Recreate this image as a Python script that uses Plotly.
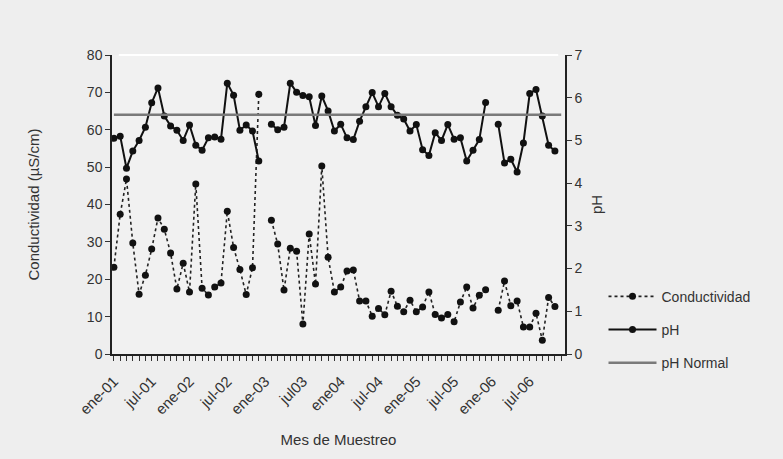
import plotly.graph_objects as go

# ---- data ----
MES_ABR = ["ene", "feb", "mar", "abr", "may", "jun", "jul", "ago", "sep", "oct", "nov", "dic"]
ANIOS = ["01", "02", "03", "04", "05", "06"]
MESES = [f"{m}-{a}" for a in ANIOS for m in MES_ABR]

TICK_LABELS = ["ene-01", "jul-01", "ene-02", "jul-02", "ene-03", "jul03",
               "ene04", "jul-04", "ene-05", "jul-05", "ene-06", "jul-06"]

CONDUCTIVIDAD = [23.2, 37.4, 46.8, 29.7, 16.0, 21.1, 28.1, 36.4, 33.4, 27.0, 17.4, 24.3,
                 16.6, 45.5, 17.6, 15.8, 17.9, 19.0, 38.2, 28.5, 22.6, 15.9, 23.1, 69.5,
                 None, 35.8, 29.4, 17.1, 28.3, 27.5, 8.0, 32.1, 18.7, 50.3, 25.9, 16.6,
                 17.9, 22.2, 22.5, 14.2, 14.2, 10.1, 12.2, 10.5, 16.8, 12.8, 11.3, 14.4,
                 11.3, 12.6, 16.6, 10.6, 9.6, 10.6, 8.6, 13.9, 17.9, 12.3, 15.7, 17.2,
                 None, 11.7, 19.5, 12.9, 14.2, 7.2, 7.2, 10.9, 3.7, 15.1, 12.7, None]

PH = [5.05, 5.10, 4.35, 4.75, 5.00, 5.31, 5.88, 6.23, 5.57, 5.34, 5.24, 5.00,
      5.36, 4.89, 4.77, 5.06, 5.08, 5.03, 6.34, 6.06, 5.24, 5.36, 5.22, 4.52,
      None, 5.38, 5.25, 5.31, 6.34, 6.13, 6.05, 6.02, 5.35, 6.04, 5.69, 5.22,
      5.38, 5.06, 5.02, 5.45, 5.79, 6.12, 5.79, 6.10, 5.79, 5.59, 5.50, 5.22,
      5.37, 4.78, 4.65, 5.18, 5.00, 5.37, 5.03, 5.06, 4.52, 4.77, 5.02, 5.89,
      None, 5.38, 4.47, 4.56, 4.26, 4.94, 6.10, 6.19, 5.57, 4.89, 4.75, None]

PH_NORMAL = 5.6

# ---- figure ----
FONT = "Liberation Sans, Arial, sans-serif"
TXT = "#333333"

fig = go.Figure()

fig.add_trace(go.Scatter(
    x=MESES, y=CONDUCTIVIDAD, name="Conductividad", mode="lines+markers",
    line=dict(color="#222222", width=1.6, dash="dot"),
    marker=dict(color="#111111", size=7, symbol="circle"),
    connectgaps=False, legendgroup="a", yaxis="y"))

fig.add_trace(go.Scatter(
    x=MESES, y=PH, name="pH", mode="lines+markers",
    line=dict(color="#111111", width=2),
    marker=dict(color="#111111", size=7, symbol="circle"),
    connectgaps=False, legendgroup="b", yaxis="y2"))

fig.add_trace(go.Scatter(
    x=[MESES[0], MESES[-1]], y=[PH_NORMAL, PH_NORMAL], name="pH Normal", mode="lines",
    line=dict(color="#7a7a7a", width=2.5),
    legendgroup="c", yaxis="y2"))

tickvals = MESES
ticktext = [TICK_LABELS[i // 6] if i % 6 == 0 else "" for i in range(len(MESES))]

fig.update_layout(
    width=783, height=459,
    margin=dict(l=112, r=218, t=55, b=105),
    paper_bgcolor="#eeeeee", plot_bgcolor="#f1f1f1",
    font=dict(family=FONT, size=14, color=TXT),
    showlegend=True,
    legend=dict(x=1.085, y=0.245, xanchor="left", yanchor="top",
                bgcolor="rgba(0,0,0,0)", tracegroupgap=12, itemwidth=48,
                font=dict(size=14, color=TXT)),
    xaxis=dict(type="category", categoryorder="array", categoryarray=MESES,
               range=[-0.3, 71.6], tickmode="array", tickvals=tickvals, ticktext=ticktext,
               tickangle=-45, ticks="outside", ticklen=5, tickcolor="#333",
               ticklabelstandoff=6,
               showline=True, linecolor="#222", linewidth=1.5, showgrid=False, zeroline=False,
               title=dict(text="Mes de Muestreo", font=dict(size=15), standoff=18),
               tickfont=dict(size=15)),
    yaxis=dict(range=[0, 80], dtick=10, ticks="outside", ticklen=5, tickcolor="#333",
               showline=True, linecolor="#222", linewidth=1.5, showgrid=False, zeroline=False,
               title=dict(text="Conductividad (µS/cm)", font=dict(size=15), standoff=44)),
    yaxis2=dict(range=[0, 7], dtick=1, overlaying="y", side="right",
                ticks="outside", ticklen=5, tickcolor="#333",
                showline=True, linecolor="#222", linewidth=1.5, showgrid=False, zeroline=False,
                title=dict(text="pH", font=dict(size=15), standoff=10)),
    shapes=[dict(type="line", xref="paper", yref="paper", x0=0.015, x1=0.985, y0=1, y1=1,
                 line=dict(color="#ffffff", width=2))],
)

fig.write_html(
    "out.html",
    config={"displayModeBar": False},
    post_script="document.body.style.margin='0';document.body.style.padding='0';"
                "document.body.style.background='#eeeeee';",
)
